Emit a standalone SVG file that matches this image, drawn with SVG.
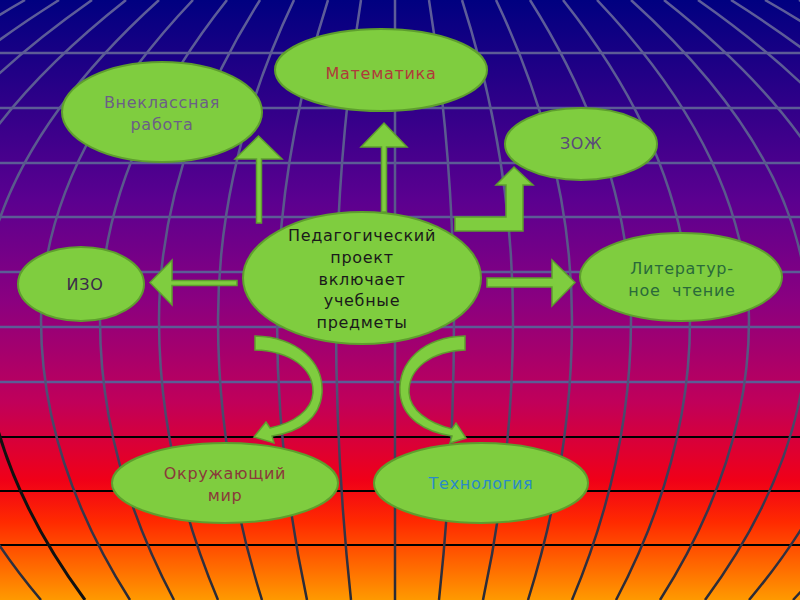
<svg xmlns="http://www.w3.org/2000/svg" width="800" height="600" viewBox="0 0 800 600">
<defs>
<linearGradient id="bg" x1="0" y1="0" x2="0" y2="1">
<stop offset="0" stop-color="#000080"/>
<stop offset="0.33" stop-color="#5a0090"/>
<stop offset="0.5" stop-color="#8a0080"/>
<stop offset="0.67" stop-color="#c0005a"/>
<stop offset="0.8" stop-color="#f00018"/>
<stop offset="0.87" stop-color="#ff2a00"/>
<stop offset="1" stop-color="#ff9a00"/>
</linearGradient>
<linearGradient id="mer" gradientUnits="userSpaceOnUse" x1="0" y1="0" x2="0" y2="600">
<stop offset="0" stop-color="#5d5d9a"/>
<stop offset="0.6" stop-color="#565680"/>
<stop offset="0.78" stop-color="#3e3e58"/>
<stop offset="1" stop-color="#2a2a34"/>
</linearGradient>
</defs>
<style>
.node{fill:#7fcd3f;stroke:#5e9e2e;stroke-width:2}
.arr{fill:#7fcd3f;stroke:#5e9e2e;stroke-width:1.5}
.hl{stroke:#5c5c96;stroke-width:2.5}
.hk{stroke:#000000;stroke-width:2}
.m{fill:none;stroke:url(#mer);stroke-width:2.5}
text{font-family:"DejaVu Sans","Liberation Sans",sans-serif;font-size:16px;letter-spacing:0.7px;text-anchor:middle;dominant-baseline:central}
</style>
<rect width="800" height="600" fill="url(#bg)"/>
<g id="grid">
<line class="hl" x1="0" y1="53" x2="800" y2="53"/>
<line class="hl" x1="0" y1="108" x2="800" y2="108"/>
<line class="hl" x1="0" y1="163" x2="800" y2="163"/>
<line class="hl" x1="0" y1="217" x2="800" y2="217"/>
<line class="hl" x1="0" y1="272" x2="800" y2="272"/>
<line class="hl" x1="0" y1="327" x2="800" y2="327"/>
<line class="hl" x1="0" y1="382" x2="800" y2="382" stroke="#7a5a8a"/>
<line class="hk" x1="0" y1="437" x2="800" y2="437"/>
<line class="hk" x1="0" y1="491" x2="800" y2="491"/>
<line class="hk" x1="0" y1="545" x2="800" y2="545"/>
<path class="m" d="M395,0 L395,600"/>
<path class="m" d="M361,0 Q336,160 336,320 Q336,460 351,600"/>
<path class="m" d="M429,0 Q454,160 454,320 Q454,460 439,600"/>
<path class="m" d="M328,0 Q277,160 277,320 Q277,460 307,600"/>
<path class="m" d="M462,0 Q513,160 513,320 Q513,460 483,600"/>
<path class="m" d="M294,0 Q218,160 218,320 Q218,460 262,600"/>
<path class="m" d="M496,0 Q572,160 572,320 Q572,460 528,600"/>
<path class="m" d="M260,0 Q159,160 159,320 Q159,460 218,600"/>
<path class="m" d="M530,0 Q631,160 631,320 Q631,460 572,600"/>
<path class="m" d="M227,0 Q100,160 100,320 Q100,460 174,600"/>
<path class="m" d="M563,0 Q690,160 690,320 Q690,460 616,600"/>
<path class="m" d="M193,0 Q41,160 41,320 Q41,460 130,600"/>
<path class="m" d="M597,0 Q749,160 749,320 Q749,460 660,600"/>
<path class="m" d="M159,0 Q-18,160 -18,320"/>
<path d="M-18,320 Q-18,460 85,600" fill="none" stroke="#111" stroke-width="3"/>
<path class="m" d="M631,0 Q808,160 808,320 Q808,460 705,600"/>
<path class="m" d="M126,0 Q-77,160 -77,320 Q-77,460 41,600"/>
<path class="m" d="M664,0 Q867,160 867,320 Q867,460 749,600"/>
<path class="m" d="M92,0 Q-136,160 -136,320 Q-136,460 -3,600"/>
<path class="m" d="M698,0 Q926,160 926,320 Q926,460 793,600"/>
<path class="m" d="M59,0 Q-195,160 -195,320"/>
<path class="m" d="M731,0 Q985,160 985,320"/>
<path class="m" d="M25,0 Q-254,160 -254,320"/>
<path class="m" d="M765,0 Q1044,160 1044,320"/>
<path class="m" d="M-9,0 Q-313,160 -313,320"/>
<path class="m" d="M799,0 Q1103,160 1103,320"/>
</g>
<g id="connectors">
<polygon class="arr" points="256.5,223 261.5,223 261.5,159 282,159 258.5,136 235,159 256.5,159"/>
<polygon class="arr" points="381.5,212 386.5,212 386.5,147 407,147 384,123 361,147 381.5,147"/>
<polygon class="arr" points="455,217 506,217 506,185 496,185 514,167 533,185 523,185 523,231 455,231"/>
<polygon class="arr" points="237,280.5 172,280.5 172,260 150,282.5 172,305 172,285.5 237,285.5"/>
<polygon class="arr" points="487,278 552,278 552,260 575,282.5 552,306 552,287 487,287"/>
<path class="arr" d="M255,336 C297,337 324,362 322,393 C320,418 300,432 272,436 L274,443 L254,437 L266,422 L270,428 C294,423 312,410 313,393 C314,368 290,351 255,350 Z"/>
<path class="arr" d="M465,336 C423,337 398,362 400,393 C402,418 425,432 452,436 L450,443 L466,438 L456,423 L452,429 C428,423 410,410 409,393 C408,368 432,351 465,350 Z"/>
</g>
<g id="vneklass">
<ellipse class="node" cx="162" cy="112" rx="100" ry="50"/>
<text x="162" y="102" fill="#6b5f86">Внеклассная</text>
<text x="162" y="124" fill="#6b5f86">работа</text>
</g>
<g id="matematika">
<ellipse class="node" cx="381" cy="70" rx="106" ry="41"/>
<text x="381" y="73" fill="#b03a3a">Математика</text>
</g>
<g id="zozh">
<ellipse class="node" cx="581" cy="144" rx="76" ry="36"/>
<text x="581" y="143" fill="#5a4a7a">ЗОЖ</text>
</g>
<g id="izo">
<ellipse class="node" cx="81" cy="284" rx="63" ry="37"/>
<text x="85" y="284" fill="#3a2a4a">ИЗО</text>
</g>
<g id="literatura">
<ellipse class="node" cx="681" cy="277" rx="101" ry="44"/>
<text x="682" y="268" fill="#2a6a3a">Литератур-</text>
<text x="682" y="290" fill="#2a6a3a" xml:space="preserve">ное  чтение</text>
</g>
<g id="center">
<ellipse class="node" cx="362" cy="278" rx="119" ry="66"/>
<text x="362" y="235" fill="#1a1a1a">Педагогический</text>
<text x="362" y="257" fill="#1a1a1a">проект</text>
<text x="362" y="279" fill="#1a1a1a">включает</text>
<text x="362" y="300" fill="#1a1a1a">учебные</text>
<text x="362" y="322" fill="#1a1a1a">предметы</text>
</g>
<g id="okruzh">
<ellipse class="node" cx="225" cy="483" rx="113" ry="40"/>
<text x="225" y="473" fill="#8a3a3a">Окружающий</text>
<text x="225" y="495" fill="#8a3a3a">мир</text>
</g>
<g id="tehnologia">
<ellipse class="node" cx="481" cy="483" rx="107" ry="40"/>
<text x="481" y="483" fill="#2a8ac8">Технология</text>
</g>
</svg>
